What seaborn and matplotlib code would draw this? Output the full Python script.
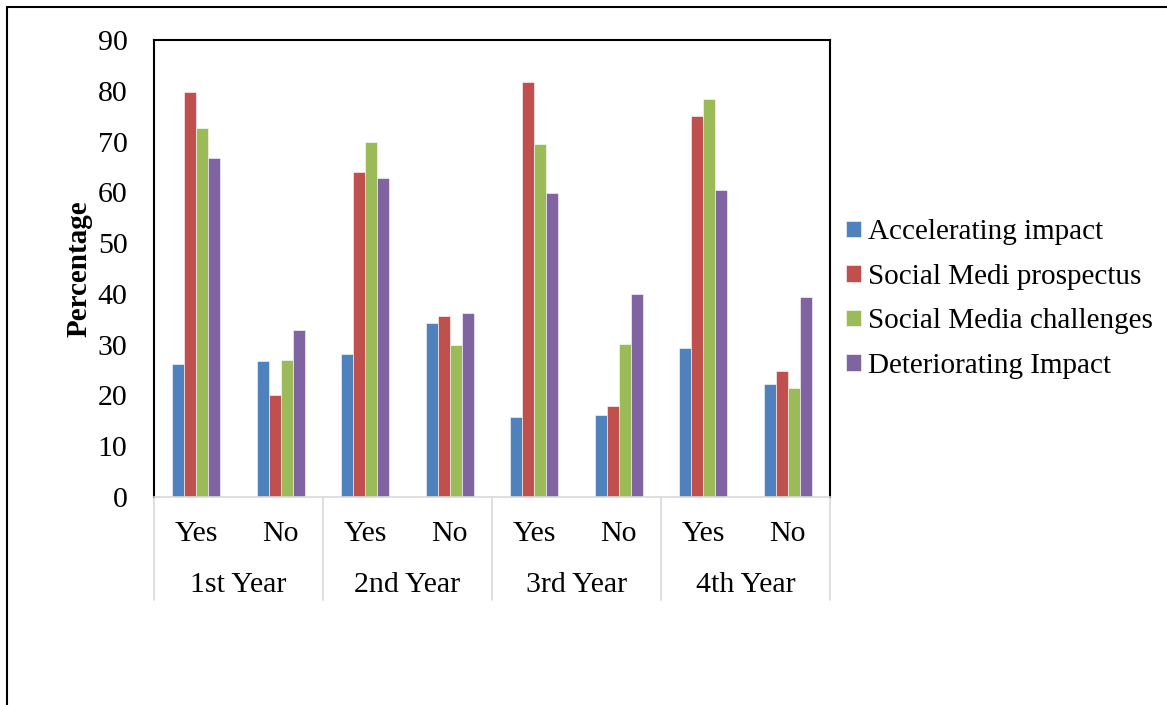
import pandas as pd
import numpy as np
import matplotlib
matplotlib.use("Agg")
import matplotlib.pyplot as plt
import matplotlib.transforms as mtransforms
from matplotlib.lines import Line2D
import seaborn as sns

# 데이터
years = ["1st Year", "2nd Year", "3rd Year", "4th Year"]
answers = ["Yes", "No"]
series = ["Accelerating impact", "Social Medi prospectus",
          "Social Media challenges", "Deteriorating Impact"]

accelerating = [26.2, 26.8, 28.2, 34.3, 15.7, 16.1, 29.3, 22.2]
prospectus = [79.8, 20.0, 64.0, 35.7, 81.7, 17.9, 75.0, 24.9]
challenges = [72.7, 27.0, 69.9, 29.9, 69.5, 30.1, 78.3, 21.5]
deteriorating = [66.8, 32.9, 62.9, 36.3, 59.9, 39.9, 60.4, 39.4]

colors = ["#4F81BD", "#C0504D", "#9BBB59", "#8064A2"]

# long-form table
cats = [f"{y}|{a}" for y in years for a in answers]
rows = []
for name, vals in zip(series, [accelerating, prospectus, challenges, deteriorating]):
    for c, v in zip(cats, vals):
        rows.append({"cat": c, "series": name, "value": v})
df = pd.DataFrame(rows)

sns.set_theme(style="white")
plt.rcParams["font.family"] = ["Liberation Serif", "DejaVu Serif"]
plt.rcParams["text.color"] = "black"
plt.rcParams["axes.labelcolor"] = "black"
plt.rcParams["xtick.color"] = "black"
plt.rcParams["ytick.color"] = "black"

fig = plt.figure(figsize=(11.67, 7.05), dpi=100)
ax = fig.add_axes([154 / 1167, 1 - 497 / 705, 676 / 1167, 457 / 705])

sns.barplot(data=df, x="cat", y="value", hue="series", order=cats,
            hue_order=series, palette=colors, width=0.57, gap=0,
            saturation=1, edgecolor="white", linewidth=0.4, ax=ax)

ax.set_ylim(0, 90)
ax.set_yticks(np.arange(0, 91, 10))
ax.set_xlim(-0.5, len(cats) - 0.5)
ax.tick_params(axis="y", length=0, pad=19, labelsize=21.5)
ax.tick_params(axis="x", length=0, pad=17, labelsize=21.5)
ax.set_xticks(range(len(cats)))
ax.set_xticklabels([c.split("|")[1] for c in cats])
ax.set_xlabel("")
ax.set_ylabel("Percentage", fontsize=21, fontweight="bold", labelpad=4)

for side in ["left", "top", "right"]:
    ax.spines[side].set_color("black")
    ax.spines[side].set_linewidth(1.5)
ax.spines["bottom"].set_color("#D9D9D9")
ax.spines["bottom"].set_linewidth(1.2)

# 다단계 카테고리 축
trans = mtransforms.blended_transform_factory(ax.transData, ax.transAxes)
for i, y in enumerate(years):
    ax.text(2 * i + 0.5, -0.192, y, transform=trans, ha="center", va="center",
            fontsize=21.5)
for b in np.arange(-0.5, len(cats), 2):
    ax.plot([b, b], [0, -0.225], transform=trans, color="#D9D9D9",
            linewidth=1.2, clip_on=False)

leg = ax.legend(loc="center left", bbox_to_anchor=(846 / 1167, 1 - 299 / 705),
                bbox_transform=fig.transFigure, frameon=False, fontsize=21,
                handlelength=0.5, handleheight=0.5, handletextpad=0.25,
                labelspacing=0.63, borderaxespad=0, borderpad=0)

# 바깥 테두리
fig.add_artist(Line2D([7 / 1167, 1.0], [1 - 7 / 705, 1 - 7 / 705],
                      transform=fig.transFigure, color="black", linewidth=1.5))
fig.add_artist(Line2D([7 / 1167, 7 / 1167], [0.0, 1 - 7 / 705],
                      transform=fig.transFigure, color="black", linewidth=1.5))

fig.savefig("out.png", dpi=100)
